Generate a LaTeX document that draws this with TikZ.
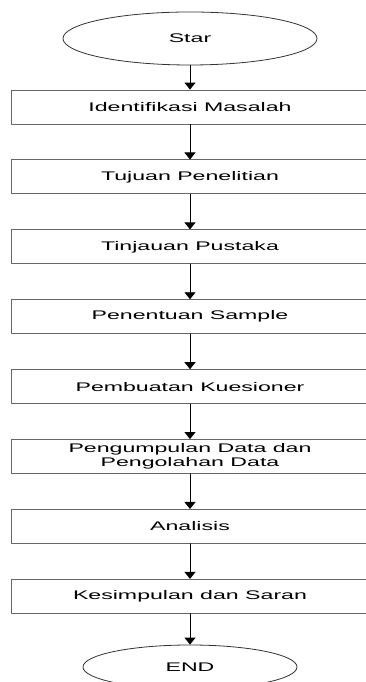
\documentclass[tikz,border=0pt]{standalone}
\usepackage{fontspec}
\setmainfont[FakeStretch=1.85]{Liberation Sans}
\usetikzlibrary{shapes.geometric,arrows.meta}
\begin{document}
\begin{tikzpicture}[x=1pt,y=1pt,line cap=round, line join=round,
	every node/.style={font=\fontsize{12.5}{14}\selectfont,align=center},
	tahap/.style={draw=black!60,line width=0.8pt,minimum width=358pt,minimum height=34pt,inner sep=0pt},
	ujung/.style={draw=black!80,line width=0.8pt,ellipse,inner sep=0pt},
	panah/.style={line width=0.9pt,-{Triangle[length=7pt,width=11pt]}}]
			\useasboundingbox (0,0) rectangle (366,682);
			\node[ujung,minimum width=254pt,minimum height=53pt] (star) at (190,643.5) {Star};
			\node[tahap] (t1) at (190,575) {Identifikasi Masalah};
			\node[tahap] (t2) at (190,505.1) {Tujuan Penelitian};
			\node[tahap] (t3) at (190,435.2) {Tinjauan Pustaka};
			\node[tahap] (t4) at (190,365.3) {Penentuan Sample};
			\node[tahap] (t5) at (190,295.4) {Pembuatan Kuesioner};
			\node[tahap] (t6) at (190,225.5) {Pengumpulan Data dan\\Pengolahan Data};
			\node[tahap] (t7) at (190,155.6) {Analisis};
			\node[tahap] (t8) at (190,85.7) {Kesimpulan dan Saran};
			\node[ujung,minimum width=214pt,minimum height=44pt] (end) at (190,15) {END};
			\draw[panah] (star) -- (t1);
			\draw[panah] (t1) -- (t2);
			\draw[panah] (t2) -- (t3);
			\draw[panah] (t3) -- (t4);
			\draw[panah] (t4) -- (t5);
			\draw[panah] (t5) -- (t6);
			\draw[panah] (t6) -- (t7);
			\draw[panah] (t7) -- (t8);
			\draw[panah] (t8) -- (end);
		\end{tikzpicture}
\end{document}
